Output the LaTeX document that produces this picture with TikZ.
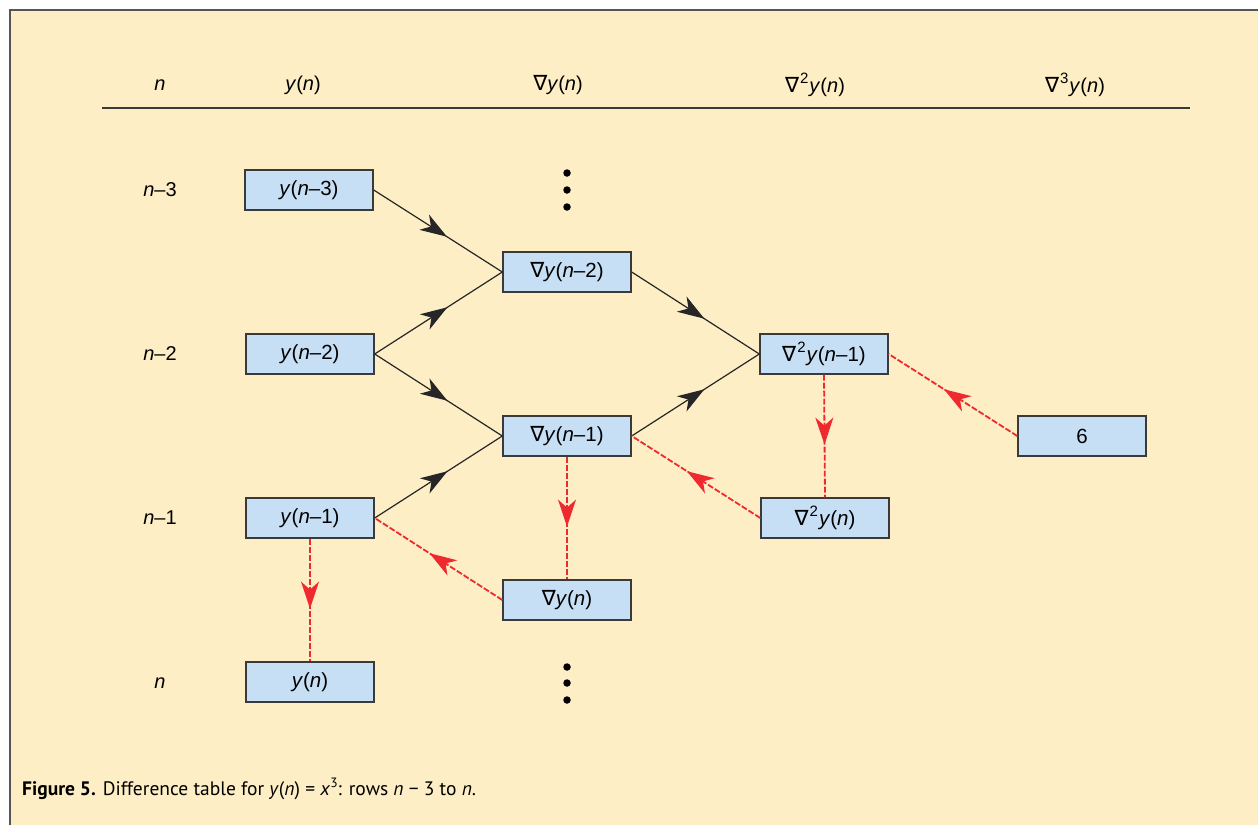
\documentclass[tikz,border=0pt]{standalone}
\usepackage{fontspec}
\setmainfont{Liberation Sans}
\newfontfamily\dvfont{DejaVu Sans}
\newfontfamily\capfont{PT Sans}
\usetikzlibrary{arrows.meta,decorations.markings}
\definecolor{bgyel}{HTML}{FDEEC6}
\definecolor{boxblue}{HTML}{C7DFF4}
\definecolor{boxline}{HTML}{3A3A3A}
\definecolor{redline}{HTML}{EE2A2E}
\definecolor{framec}{HTML}{555555}
\newcommand{\nab}{{\dvfont\fontsize{21}{21}\selectfont ∇}}
\newcommand{\suptwo}[1]{\kern1pt\raisebox{0.42em}{\fontsize{15}{15}\selectfont #1}\kern1pt}
\newcommand{\yy}{\textit{y}}
\newcommand{\nn}{\textit{n}}
\tikzset{
  cell/.style={draw=boxline, line width=1.4pt, fill=boxblue, minimum width=128pt, minimum height=40pt, inner sep=0pt, font=\fontsize{20.5}{20.5}\selectfont},
  lbl/.style={inner sep=0pt, font=\fontsize{20}{20}\selectfont},
  blk/.style={draw=black!85, line width=1.2pt, decoration={markings, mark=at position 0.57 with {\arrow{Stealth[length=27pt,width=18pt,inset=8pt]}}}, postaction={decorate}},
  rdd/.style={draw=redline, line width=1.8pt, dash pattern=on 6pt off 2pt, decoration={markings, mark=at position 0.57 with {\arrow{Stealth[length=27pt,width=18pt,inset=8pt]}}}, postaction={decorate, solid, fill=redline}},
  dotc/.style={circle, fill=black, inner sep=0pt, minimum size=7.5pt}
}
\begin{document}
\begin{tikzpicture}[x=1pt,y=-1pt]
\useasboundingbox (0,0) rectangle (1258,825);
\fill[white] (0,0) rectangle (1258,825);
\fill[bgyel] (10,10) rectangle (1258,825);
\draw[framec, line width=1.6pt] (10,825) -- (10,10) -- (1258,10);
% headers
\node[lbl] (hn) at (160,85) {\nn};
\node[lbl] (hy) at (303,85) {\yy(\nn)};
\node[lbl] (h1) at (558,85) {\nab\yy(\nn)};
\node[lbl] (h2) at (815,85) {\nab\suptwo{2}\yy(\nn)};
\node[lbl] (h3) at (1075,85) {\nab\suptwo{3}\yy(\nn)};
\coordinate (hl) at (102,108);
\coordinate (hr) at (1190,108);
\draw[boxline, line width=1.4pt] (hl) -- (hr);
% row labels
\node[lbl] (r3) at (160,190) {\nn–3};
\node[lbl] (r2) at (160,354) {\nn–2};
\node[lbl] (r1) at (160,518) {\nn–1};
\node[lbl] (r0) at (160,683) {\nn};
% boxes
\node[cell] (y3) at (309,190) {\yy(\nn–3)};
\node[cell] (d2) at (567,272) {\nab\yy(\nn–2)};
\node[cell] (y2) at (310,354) {\yy(\nn–2)};
\node[cell] (s1) at (824,354) {\nab\suptwo{2}\yy(\nn–1)};
\node[cell] (d1) at (567,436) {\nab\yy(\nn–1)};
\node[cell] (six) at (1082,436) {6};
\node[cell] (y1) at (310,518) {\yy(\nn–1)};
\node[cell] (s0) at (825,518) {\nab\suptwo{2}\yy(\nn)};
\node[cell] (d0) at (567,600) {\nab\yy(\nn)};
\node[cell] (y0) at (310,682) {\yy(\nn)};
% dots
\node[dotc] (ta) at (567,173) {};
\node[dotc] (tb) at (567,190) {};
\node[dotc] (tc) at (567,207) {};
\node[dotc] (ba) at (567,667) {};
\node[dotc] (bb) at (567,683) {};
\node[dotc] (bc) at (567,700) {};
% black connectors
\path[blk] (y3.east) -- (d2.west);
\path[blk] (y2.east) -- (d2.west);
\path[blk] (y2.east) -- (d1.west);
\path[blk] (y1.east) -- (d1.west);
\path[blk] (d2.east) -- (s1.west);
\path[blk] (d1.east) -- (s1.west);
% red dashed connectors
\path[rdd] (y1.south) -- (y0.north);
\path[rdd] (d0.west) -- (y1.east);
\path[rdd] (d1.south) -- (d0.north);
\path[rdd] (s0.west) -- (d1.east);
\path[rdd] (s1.south) -- (s0.north);
\path[rdd] (six.west) -- (s1.east);
% caption
\node[anchor=base west, inner sep=0pt, font=\capfont\fontsize{19.5}{19.5}\selectfont] (cap) at (22,795) {\textbf{Figure 5.} Difference table for \textit{y}(\textit{n}) = \textit{x}\raisebox{0.4em}{\fontsize{13.5}{13.5}\selectfont 3}: rows \textit{n} − 3 to \textit{n}.};
\end{tikzpicture}
\end{document}
